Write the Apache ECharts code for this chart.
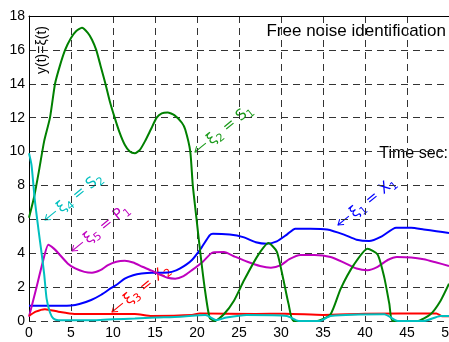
<!DOCTYPE html>
<html>
<head>
<meta charset="utf-8">
<style>
  html, body { margin: 0; padding: 0; background: #fff; }
  #chart { width: 449px; height: 342px; }
</style>
<script src="https://cdn.jsdelivr.net/npm/echarts@6/dist/echarts.min.js"></script>
</head>
<body>
<div id="chart"></div>
<script>
// tick labels
var xTicks = [0, 5, 10, 15, 20, 25, 30, 35, 40, 45, 50];
var yTicks = [0, 2, 4, 6, 8, 10, 12, 14, 16, 18];

// [t, value]
var xi1 = [[0,0.9],[2,0.9],[5,0.92],[6,1.0],[7.4,1.24],[8.6,1.55],[9.8,1.95],[10.6,2.2],[11.4,2.5],[12.4,2.7],[13.4,2.8],[14.6,2.85],[16,2.85],[17,2.9],[18,3.1],[19.4,3.6],[20.5,4.3],[21.5,5.05],[21.9,5.15],[23.9,5.1],[25.5,4.95],[27,4.65],[28.3,4.56],[29.5,4.7],[30.7,5.1],[31.7,5.45],[33.5,5.45],[35.5,5.4],[37.5,5.1],[39,4.8],[40.5,4.72],[42,5.0],[43.7,5.5],[45.5,5.5],[47,5.4],[48.5,5.3],[50,5.2]];
var xi5 = [[0,0.25],[0.8,1.8],[1.6,3.4],[2.3,4.5],[2.9,4.3],[3.5,4.0],[4.6,3.4],[5.5,3.1],[6.6,2.9],[7.5,2.85],[8.5,3.0],[9.4,3.3],[10.4,3.5],[11.4,3.56],[12.4,3.45],[13.5,3.2],[14.6,2.97],[15.5,2.75],[16.5,2.55],[17.4,2.5],[18.4,2.65],[19.4,3.0],[20.7,3.5],[21.9,4.05],[23.2,4.07],[24.5,3.8],[26,3.5],[27.5,3.25],[28.8,3.15],[30,3.3],[31,3.65],[32.3,3.9],[34,3.9],[35.9,3.78],[37.5,3.45],[39,3.1],[40.3,3.0],[41.5,3.2],[42.7,3.6],[43.8,3.78],[45.5,3.75],[47,3.64],[48.5,3.45],[50,3.25]];
var xi3 = [[0,0.3],[0.8,0.55],[1.9,0.7],[3.5,0.55],[5.4,0.42],[12.6,0.42],[14.6,0.3],[19.4,0.35],[20.3,0.45],[27,0.42],[30.5,0.43],[35,0.36],[40,0.43],[48.5,0.45],[49.2,0.28],[50,0.28]];
var xi2 = [[0,6.1],[0.6,7.3],[1.2,8.9],[1.8,10.6],[2.5,12],[3.1,14],[3.7,15.1],[4.3,16],[5,16.7],[5.6,17.1],[6.3,17.3],[7,17.0],[7.5,16.6],[8,16],[8.5,15.1],[9.1,14],[9.6,13],[10.2,12],[10.8,11.1],[11.4,10.4],[12,10.0],[12.6,9.9],[13.2,10.1],[13.8,10.6],[14.5,11.3],[15.2,12],[15.8,12.25],[16.5,12.3],[17.3,12.15],[18.2,11.7],[18.6,11.3],[19.2,10],[19.5,8],[19.95,6],[20.4,4],[20.9,2],[21.5,0.2],[22.1,0],[23.2,0.4],[24.4,1.2],[25.6,2.4],[27.2,3.83],[28.5,4.6],[29.5,4.1],[30.3,2.4],[30.9,1.0],[31.5,0],[34.3,0],[35.9,0.4],[37.1,1.9],[38.7,3.34],[40.3,4.27],[41.5,3.93],[42.3,2.56],[42.9,1.0],[43.3,0],[46.2,0],[47.8,0.4],[49,1.2],[50,2.2]];
var xi4 = [[0,9.9],[0.3,9.2],[0.7,7.1],[1.1,5.5],[1.5,4.0],[1.8,2.8],[2.1,1.3],[2.5,0.5],[2.9,0.15],[3.5,0.05],[8,0.05],[10,0.1],[12.6,0.15],[15,0.2],[18,0.25],[21,0.35],[22.3,0.05],[23.5,0.2],[25.9,0.35],[30.7,0.3],[32.1,0],[34.6,0],[35.9,0.3],[42.3,0.4],[43.9,0],[47,0],[49,0.3],[50,0.3]];

var chart = echarts.init(document.getElementById('chart'));

function line(name, data, color) {
    return {
        name: name,
        type: 'line',
        data: data,
        showSymbol: false,
        smooth: 0.2,
        lineStyle: { color: color, width: 2 },
        itemStyle: { color: color },
        z: 3
    };
}

// rotated "<- xi_n = .." labels, placed at the arrow tip
function note(x, y, a, b, c, d, color) {
    return {
        type: 'group',
        x: x, y: y,
        rotation: 0.68,
        children: [
            { type: 'polyline', shape: { points: [[0,0],[14,0]] }, style: { stroke: color, lineWidth: 1 } },
            { type: 'polyline', shape: { points: [[5,-3.5],[0,0],[5,3.5]] }, style: { stroke: color, fill: null, lineWidth: 1 } },
            { type: 'text', x: 17, y: 1, style: {
                text: '{m|' + a + '}{s|' + b + '}{m| = ' + c + '}{s|' + d + '}',
                fill: color, verticalAlign: 'middle', align: 'left',
                rich: {
                    m: { fontSize: 15, fontFamily: 'DejaVu Sans', lineHeight: 20, verticalAlign: 'middle', fill: color },
                    s: { fontSize: 11, fontFamily: 'DejaVu Sans', lineHeight: 20, verticalAlign: 'bottom', fill: color }
                }
            } }
        ]
    };
}

var option = {
    animation: false,
    grid: { left: 29, right: 0, top: 16, bottom: 21, outerBoundsMode: 'none', containLabel: false },
    xAxis: [{
        type: 'value',
        min: 0, max: 50, interval: 5,
        axisLine: { show: false },
        axisTick: { show: false },
        axisLabel: { color: '#000', fontSize: 14, fontFamily: 'Liberation Sans', margin: 5, hideOverlap: false },
        splitLine: { show: true, lineStyle: { color: '#333', type: [7, 5], width: 1 } }
    }, {
        type: 'value',
        position: 'top',
        min: 0, max: 50,
        axisLine: { show: true, onZero: false, lineStyle: { color: '#000', width: 1 } },
        axisTick: { show: false },
        axisLabel: { show: false },
        splitLine: { show: false }
    }],
    yAxis: {
        type: 'value',
        min: 0, max: 18, interval: 2,
        axisLine: { show: true, lineStyle: { color: '#000', width: 1 } },
        axisTick: { show: false },
        axisLabel: { color: '#000', fontSize: 14, fontFamily: 'Liberation Sans', margin: 4 },
        splitLine: { show: true, lineStyle: { color: '#333', type: [7, 5], width: 1 } }
    },
    series: [
        line('xi1', xi1, '#0000ff'),
        line('xi5', xi5, '#bf00bf'),
        line('xi3', xi3, '#ff0000'),
        line('xi2', xi2, '#008000'),
        line('xi4', xi4, '#00bfbf')
    ],
    graphic: [
        { type: 'text', right: 3, top: 23, style: { text: 'Free noise identification', fill: '#000', font: '17px "Liberation Sans"' } },
        { type: 'text', right: 1, top: 146, style: { text: 'Time sec:', fill: '#000', font: '16px "Liberation Sans"' } },
        { type: 'text', x: 42, y: 50, rotation: Math.PI / 2, style: { text: 'y(t)=ξ(t)', fill: '#000', font: '14px "Liberation Sans"', align: 'center', verticalAlign: 'middle' } },
        note(195, 152, 'ξ', '2', 'S', '1', '#1a9a1a'),
        note(45, 220, 'ξ', '4', 'S', '2', '#00bfbf'),
        note(72, 251, 'ξ', '5', 'P', '1', '#bf00bf'),
        note(112, 312, 'ξ', '3', 'X', '2', '#ff0000'),
        note(338, 225, 'ξ', '1', 'X', '1', '#0000ff')
    ]
};

chart.setOption(option);
</script>
</body>
</html>
